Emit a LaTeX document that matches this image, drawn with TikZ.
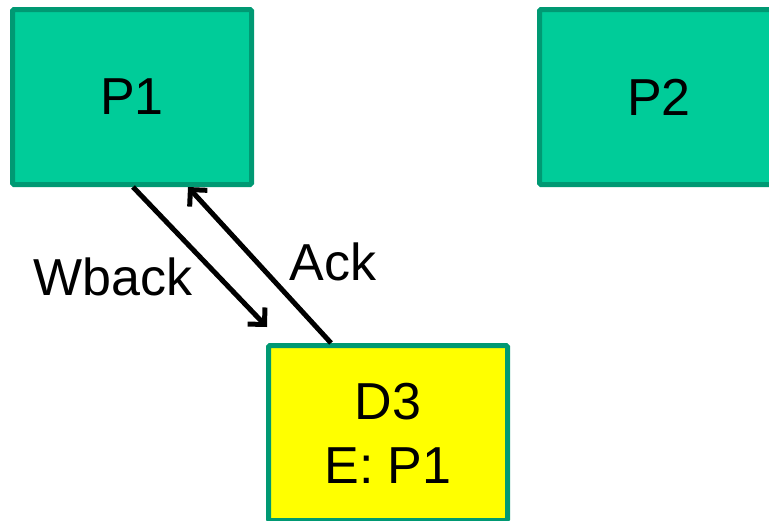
\documentclass[tikz,border=0pt]{standalone}
\usepackage{fontspec}
\setmainfont{Liberation Sans}
\usetikzlibrary{arrows.meta,calc}
\definecolor{pfill}{HTML}{00CC99}
\definecolor{pline}{HTML}{009973}
\definecolor{dfill}{HTML}{FFFF00}
\begin{document}
\begin{tikzpicture}[x=1pt,y=-1pt,
  box/.style={draw=pline,line width=5pt,rounded corners=1.5pt,minimum width=239pt,minimum height=175pt,inner sep=0pt,align=center,
    font=\fontsize{52}{65}\selectfont},
  lbl/.style={font=\fontsize{52}{65}\selectfont,inner sep=0pt},
  conn/.style={line width=5pt,-{Straight Barb[length=12pt,width=24pt]}}]
\useasboundingbox (0,0) rectangle (769,520);
\clip (0,0) rectangle (769,520);
\node[box,fill=pfill] (P1) at (132,97) {P1};
\node[box,fill=pfill] (P2) at (659,97) {P2};
\node[box,fill=dfill] (D3) at (388,433) {D3\\[-1pt]E: P1};
\coordinate (wbEnd) at (267,327);
\draw[conn] ([xshift=1pt]P1.south) -- (wbEnd);
\draw[conn] ([xshift=-57pt]D3.north) -- ([xshift=56pt]P1.south);
\node[lbl] (wb) at (113,277) {Wback};
\node[lbl] (ack) at (333,262) {Ack};
\end{tikzpicture}
\end{document}
